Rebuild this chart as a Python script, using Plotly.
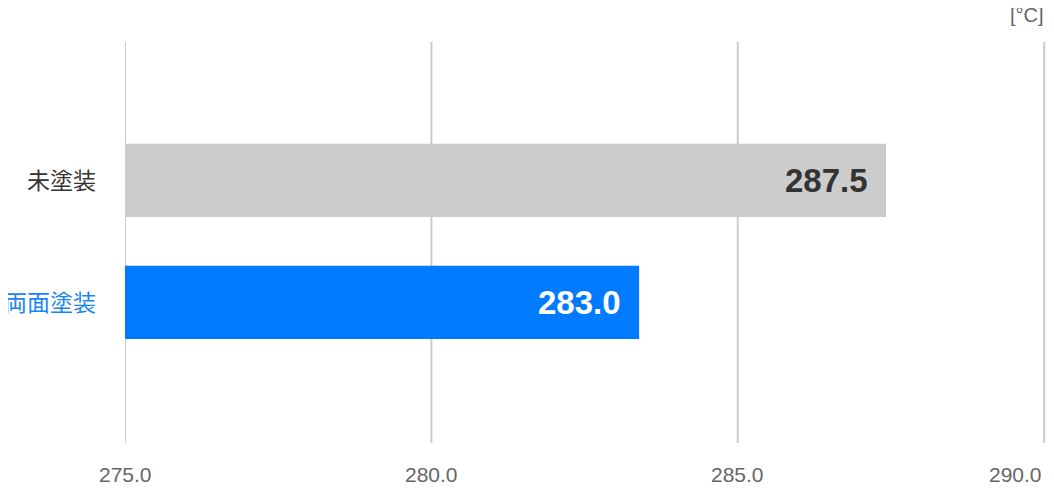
import plotly.graph_objects as go

# categories top to bottom
categories = ['未塗装', '両面塗装']
label_colors = ['#333333', '#1a85f5']
# bar lengths as drawn, and the value labels printed on them
values = [287.42, 283.39]
value_labels = ['287.5', '283.0']
bar_colors = ['#cccccc', '#007aff']
text_colors = ['#333333', '#ffffff']
x_ticks = [275, 280, 285, 290]

num_font = 'Liberation Sans, Arial, sans-serif'
jp_font = 'Noto Sans CJK JP, sans-serif'

fig = go.Figure(go.Bar(
    x=values, y=categories, orientation='h',
    marker={'color': bar_colors, 'line': {'width': 0}},
    width=0.6, hoverinfo='skip'
))

# vertical grid lines (drawn as shapes so the one on the right edge shows)
for t in x_ticks:
    fig.add_shape(type='line', x0=t, x1=t, y0=0, y1=1, xref='x', yref='paper',
                  line={'color': '#cccccc', 'width': 2}, layer='below')

for cat, v, lab, col in zip(categories, values, value_labels, text_colors):
    fig.add_annotation(x=v, y=cat, text=lab, showarrow=False,
                       xanchor='right', xshift=-16,
                       font={'family': num_font, 'size': 33, 'color': col, 'weight': 'bold'})

# x tick labels, the last one kept inside the right edge
for i, t in enumerate(x_ticks):
    fig.add_annotation(x=t, y=0, xref='x', yref='paper', text=f'{t:.1f}',
                       showarrow=False, yanchor='middle', yshift=-31,
                       xanchor='right' if i == len(x_ticks) - 1 else 'center',
                       font={'family': num_font, 'size': 21, 'color': '#666666'})

fig.add_annotation(x=1, y=1, xref='paper', yref='paper', text='[°C]',
                   showarrow=False, xanchor='right', yanchor='bottom',
                   xshift=0, yshift=14,
                   font={'family': num_font, 'size': 20, 'color': '#666666'})

# page body has an 8px margin, so the figure is sized to fit inside the window
fig.update_layout(
    width=1042, height=480,
    margin={'l': 116.5, 'r': 4, 't': 34, 'b': 45},
    plot_bgcolor='white', paper_bgcolor='white',
    showlegend=False,
    xaxis={'range': [275, 290.03], 'showgrid': False,
           'zeroline': False, 'showline': False, 'ticks': '',
           'showticklabels': False, 'automargin': False},
    yaxis={'type': 'category', 'categoryarray': categories,
           'range': [2.152, -1.135], 'showgrid': False, 'zeroline': False,
           'showline': False, 'ticks': '', 'automargin': False,
           'tickvals': categories,
           'ticktext': [f'<span style="color:{c}">{t}</span>'
                        for t, c in zip(categories, label_colors)],
           'ticklabelstandoff': 28,
           'tickfont': {'family': jp_font, 'size': 23}},
)

fig.write_html('out.html')
